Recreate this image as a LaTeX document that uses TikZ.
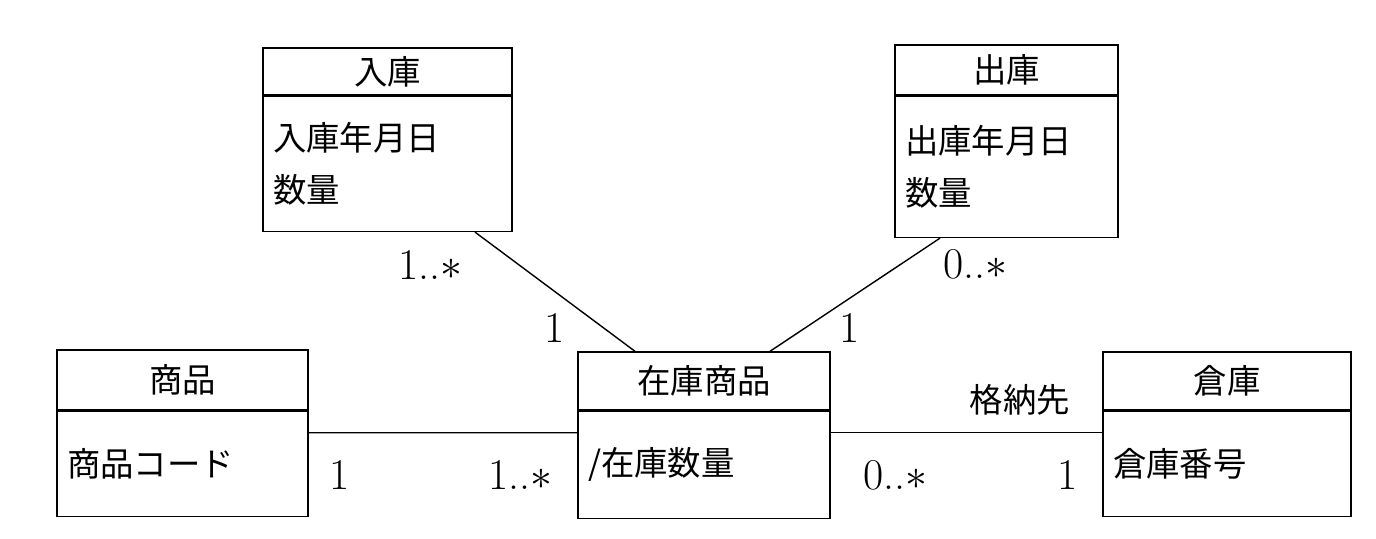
\documentclass[tikz,border=0pt]{standalone}
\usepackage{fontspec}
\newfontfamily\jp{Noto Sans CJK JP}
\usetikzlibrary{positioning}

\begin{document}
\begin{tikzpicture}[every node/.style={font=\fontsize{19}{26}\selectfont},
  head/.style={draw, thick, inner sep=0pt, font=\jp\fontsize{19}{26}\selectfont},
  body/.style={draw, thick, inner xsep=0.2cm, inner ysep=0pt, align=left, font=\jp\fontsize{19}{30}\selectfont},
  lab/.style={inner sep=0pt, font=\fontsize{25}{28}\selectfont}]
\useasboundingbox (0,0) rectangle (27.52,-10.76);
% Class boxes
\node[head, minimum width=4.98cm, minimum height=0.94cm] (in) at (7.75,-1.43) {入庫};
\node[body, text width=4.58cm, minimum height=2.7cm, anchor=north] (inb) at (in.south) {入庫年月日\\数量};
\node[head, minimum width=4.46cm, minimum height=1.0cm] (out) at (20.13,-1.4) {出庫};
\node[body, text width=4.06cm, minimum height=2.82cm, anchor=north] (outb) at (out.south) {出庫年月日\\数量};
\node[head, minimum width=5.02cm, minimum height=1.2cm] (item) at (3.65,-7.6) {商品};
\node[body, text width=4.62cm, minimum height=2.1cm, anchor=north] (itemb) at (item.south) {商品コード};
\node[head, minimum width=5.04cm, minimum height=1.16cm] (stock) at (14.08,-7.62) {在庫商品};
\node[body, text width=4.64cm, minimum height=2.14cm, anchor=north] (stockb) at (stock.south) {/在庫数量};
\node[head, minimum width=4.96cm, minimum height=1.16cm] (wh) at (24.54,-7.62) {倉庫};
\node[body, text width=4.56cm, minimum height=2.1cm, anchor=north] (whb) at (wh.south) {倉庫番号};

% Associations
\draw[thick] ([xshift=1.75cm]inb.south) -- ([xshift=-1.38cm]stock.north);
\draw[thick] ([xshift=-1.33cm]outb.south) -- ([xshift=1.32cm]stock.north);
\draw[thick] ([yshift=-0.44cm]item.south east) -- ([yshift=-0.44cm]stock.south west);
\draw[thick] ([yshift=-0.44cm]stock.south east) -- ([yshift=-0.44cm]wh.south west);

% Multiplicities
\node[lab] (m1) at (8.6,-5.3) {1..$\ast$};
\node[lab] (m2) at (11.1,-6.56) {1};
\node[lab] (m3) at (19.5,-5.28) {0..$\ast$};
\node[lab] (m4) at (17.0,-6.56) {1};
\node[lab] (m5) at (6.8,-9.5) {1};
\node[lab] (m6) at (10.4,-9.5) {1..$\ast$};
\node[lab] (m7) at (17.9,-9.5) {0..$\ast$};
\node[lab] (m8) at (21.36,-9.5) {1};
\node[lab, font=\jp\fontsize{19}{26}\selectfont] (role) at (20.4,-8.0) {格納先};
\end{tikzpicture}
\end{document}
